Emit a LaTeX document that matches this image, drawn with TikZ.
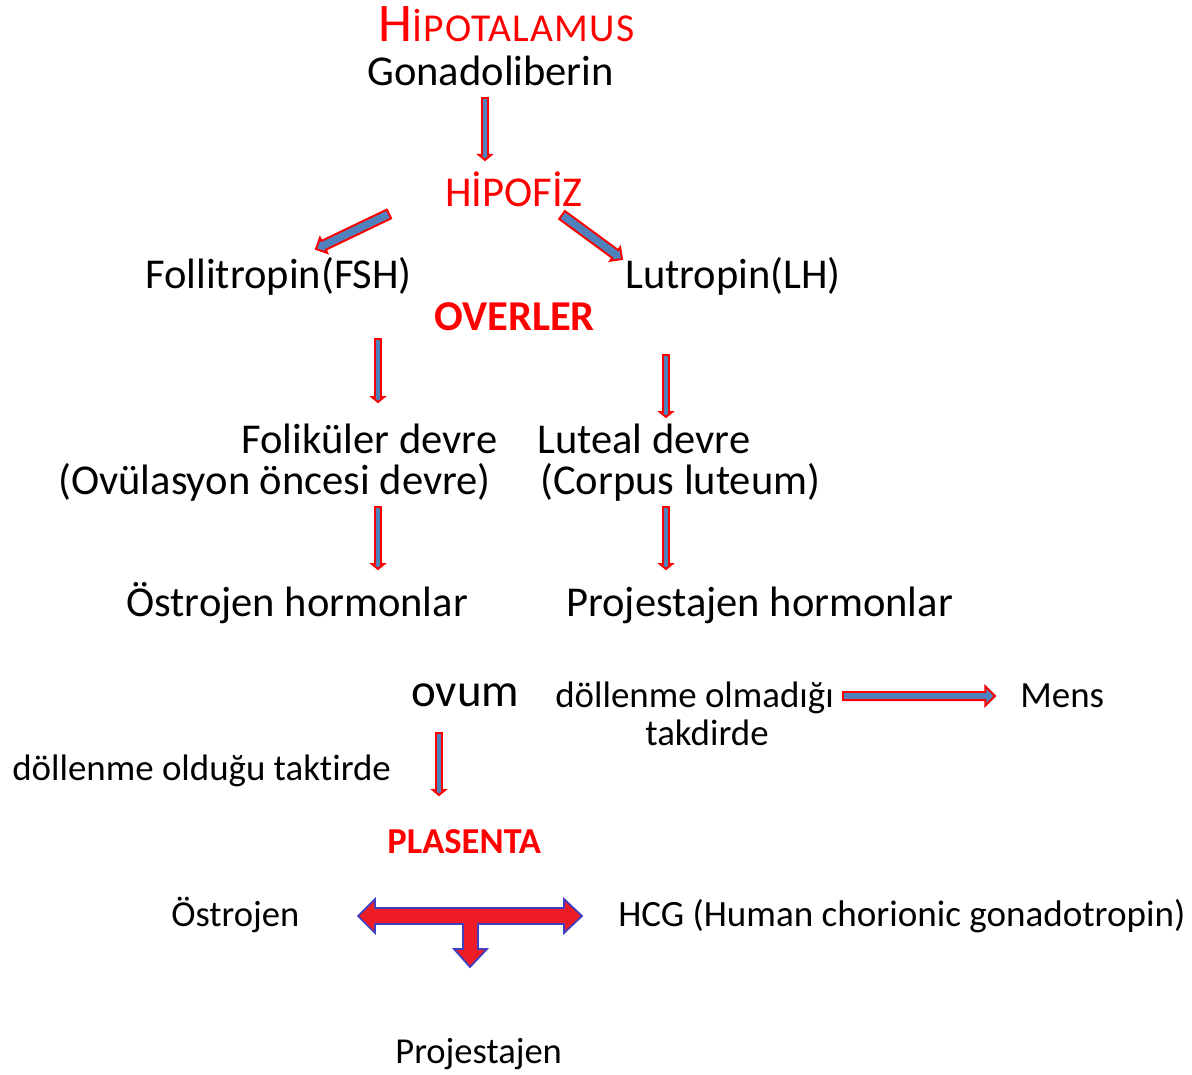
\documentclass[tikz,border=0pt]{standalone}
\usepackage{fontspec}
\setmainfont{Carlito}[Ligatures=NoCommon]
\usetikzlibrary{calc}
\definecolor{myRed}{HTML}{FF0000}
\definecolor{myBlue}{HTML}{4F81BD}
\definecolor{myEdge}{HTML}{3F3FC0}
\definecolor{tRed}{HTML}{EE1C24}

\tikzset{
  txt/.style={anchor=base west, inner sep=0pt, font=\fontsize{24.2}{28}\selectfont},
  mid/.style={anchor=base west, inner sep=0pt, font=\fontsize{21}{25}\selectfont},
  sml/.style={anchor=base west, inner sep=0pt, font=\fontsize{20.8}{24}\selectfont},
  barrow/.style={fill=myBlue, draw=myRed, line width=1.1pt, line join=miter}
}

% block arrow: [opts]{from}{to}{half shaft}{half head}{head length}
\newcommand{\blockarrow}[6][]{%
  \filldraw[barrow,#1] ($(#2)!#4!90:(#3)$) -- ($(#3)!#6!(#2)!#4!-90:(#2)$)
    -- ($(#3)!#6!(#2)!#5!-90:(#2)$) -- (#3) -- ($(#3)!#6!(#2)!#5!90:(#2)$)
    -- ($(#3)!#6!(#2)!#4!90:(#2)$) -- ($(#2)!#4!-90:(#3)$) -- cycle;}

\begin{document}
\begin{tikzpicture}[x=0.02cm, y=-0.02cm]
\useasboundingbox (0,0) rectangle (1192,1074);

% titles
\node[anchor=base west, inner sep=0pt, text=myRed] (hipo) at (378,42)
  {\fontsize{31}{34}\selectfont H\fontsize{22.5}{25}\selectfont\addfontfeature{LetterSpace=3}İPOTALAMUS};
\node[txt] (gona) at (367,86) {Gonadoliberin};
\node[txt, text=myRed] (hipof) at (445,207) {HİPOFİZ};
\node[txt] (fsh) at (145,289) {Follitropin(FSH)};
\node[txt] (lh) at (625,289) {Lutropin(LH)};
\node[txt, text=myRed, font=\fontsize{24.2}{28}\selectfont\bfseries] (over) at (434,330) {OVERLER};

% devreler
\node[txt] (folik) at (241,453) {Foliküler devre};
\node[txt] (ovul) at (58,494) {(Ovülasyon öncesi devre)};
\node[txt] (lutea) at (537,453) {Luteal devre};
\node[txt] (corp) at (540,494) {(Corpus luteum)};
\node[txt] (ostr) at (126,616) {Östrojen hormonlar};
\node[txt] (proj) at (566,616) {Projestajen hormonlar};

% ovum
\node[anchor=base west, inner sep=0pt, font=\fontsize{26.7}{30}\selectfont] (ovum) at (411,706) {ovum};
\node[mid] (olmad) at (555,707) {döllenme olmadığı};
\node[mid] (takd) at (645,745) {takdirde};
\node[mid] (mens) at (1020,707) {Mens};
\node[mid] (oldu) at (12,780) {döllenme olduğu taktirde};

% plasenta
\node[sml, text=myRed, font=\fontsize{20.8}{24}\selectfont\bfseries] (plas) at (387,853) {PLASENTA};
\node[sml] (ostr2) at (171,926) {Östrojen};
\node[sml, font=\fontsize{21.1}{24}\selectfont] (hcg) at (618,926) {HCG (Human chorionic gonadotropin)};
\node[sml] (proj2) at (395,1063) {Projestajen};

% arrow ends
\coordinate (a1) at (485,98);   \coordinate (b1) at (485,160);
\coordinate (a2) at (389,214);  \coordinate (b2) at (316,249);
\coordinate (a3) at (562,215);  \coordinate (b3) at (622,259);
\coordinate (a4) at (378,339);  \coordinate (b4) at (378,402);
\coordinate (a5) at (666,355);  \coordinate (b5) at (666,417);
\coordinate (a6) at (378,507);  \coordinate (b6) at (378,569);
\coordinate (a7) at (666,507);  \coordinate (b7) at (666,569);
\coordinate (a8) at (843,696);  \coordinate (b8) at (995,696);
\coordinate (a9) at (439,733);  \coordinate (b9) at (439,795);

\blockarrow{a1}{b1}{1.7pt}{3.6pt}{3pt}
\blockarrow{a2}{b2}{2.8pt}{4.8pt}{4.8pt}
\blockarrow{a3}{b3}{2.8pt}{4.8pt}{4.8pt}
\blockarrow{a4}{b4}{1.7pt}{3.4pt}{2.8pt}
\blockarrow{a5}{b5}{1.7pt}{3.4pt}{2.8pt}
\blockarrow{a6}{b6}{1.7pt}{3.4pt}{2.8pt}
\blockarrow{a7}{b7}{1.7pt}{3.4pt}{2.8pt}
\blockarrow{a8}{b8}{2.3pt}{5.5pt}{5.5pt}
\blockarrow{a9}{b9}{1.7pt}{3.4pt}{2.8pt}

% T arrow
\filldraw[fill=tRed, draw=myEdge, line width=1pt, line join=miter]
  (358,916) -- (375,899) -- (375,908) -- (564,908) -- (564,899) -- (582,916)
  -- (564,933) -- (564,924) -- (478,924) -- (478,949) -- (487,949) -- (470,967)
  -- (454,949) -- (463,949) -- (463,924) -- (375,924) -- (375,933) -- cycle;
\end{tikzpicture}
\end{document}
